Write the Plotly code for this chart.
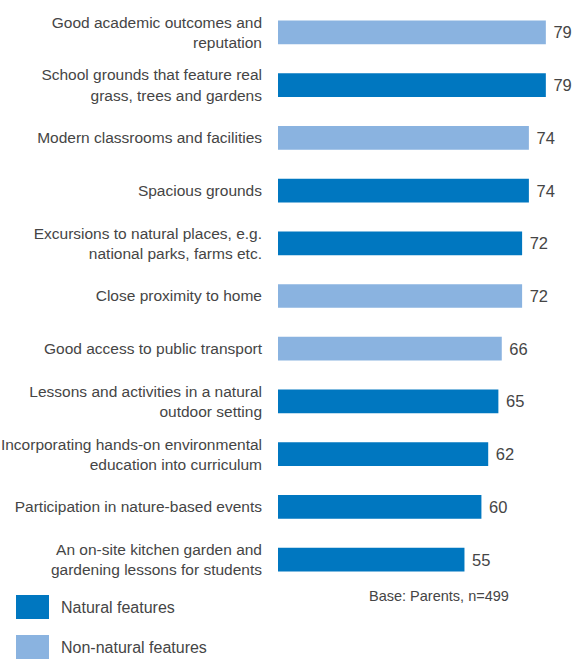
import plotly.graph_objects as go

# Survey items, top to bottom
labels = [
    "Good academic outcomes and<br>reputation",
    "School grounds that feature real<br>grass, trees and gardens",
    "Modern classrooms and facilities",
    "Spacious grounds",
    "Excursions to natural places, e.g.<br>national parks, farms etc.",
    "Close proximity to home",
    "Good access to public transport",
    "Lessons and activities in a natural<br>outdoor setting",
    "Incorporating hands-on environmental<br>education into curriculum",
    "Participation in nature-based events",
    "An on-site kitchen garden and<br>gardening lessons for students",
]
values = [79, 79, 74, 74, 72, 72, 66, 65, 62, 60, 55]
is_natural = [False, True, False, True, True, False, False, True, True, True, True]

legend_names = ["Natural features", "Non-natural features"]
base_note = "Base: Parents, n=499"

DARK = "#0077C0"
LIGHT = "#8AB3E0"
TEXT = "#454545"
FONT = "Liberation Sans, Arial, sans-serif"

W, H = 575, 659
ML, MR, MT, MB = 278, 0, 6, 73
PW, PH = W - ML - MR, H - MT - MB


def px_x(x):
    return (x - ML) / PW


def px_y(y):
    return (H - MB - y) / PH


fig = go.Figure()
for natural, color in [(True, DARK), (False, LIGHT)]:
    ys = [l for l, n in zip(labels, is_natural) if n == natural]
    xs = [v for v, n in zip(values, is_natural) if n == natural]
    fig.add_trace(go.Bar(
        x=xs, y=ys, orientation="h",
        marker=dict(color=color, line=dict(width=0)),
        text=["\u00a0" + str(v) for v in xs], textposition="outside",
        textfont=dict(size=16.5, color=TEXT, family=FONT),
        cliponaxis=False, showlegend=False,
        hoverinfo="skip",
    ))

fig.update_layout(
    width=W, height=H,
    margin=dict(l=ML, r=MR, t=MT, b=MB, autoexpand=False),
    barmode="overlay", bargap=0.55,
    plot_bgcolor="white", paper_bgcolor="white",
    font=dict(family=FONT, color=TEXT, size=15.5),
    xaxis=dict(range=[0, 87.6], visible=False, fixedrange=True,
               automargin=False),
    yaxis=dict(
        categoryorder="array", categoryarray=labels,
        autorange="reversed", showgrid=False, zeroline=False,
        showline=False, ticks="", ticklabelstandoff=15,
        automargin=False,
        tickfont=dict(size=15.5, color=TEXT, family=FONT),
    ),
)

# Legend drawn as colour swatches with labels
for i, (name, color) in enumerate(zip(legend_names, [DARK, LIGHT])):
    top = 595 + 40 * i
    fig.add_shape(type="rect", xref="paper", yref="paper",
                  x0=px_x(16), x1=px_x(49),
                  y0=px_y(top + 24), y1=px_y(top),
                  fillcolor=color, line=dict(width=0))
    fig.add_annotation(xref="paper", yref="paper",
                       x=px_x(59), y=px_y(top + 12),
                       xanchor="left", yanchor="middle", showarrow=False,
                       text=name, font=dict(size=16, color=TEXT, family=FONT))

fig.add_annotation(xref="paper", yref="paper",
                   x=px_x(367), y=px_y(596),
                   xanchor="left", yanchor="middle", showarrow=False,
                   text=base_note, font=dict(size=14.5, color=TEXT, family=FONT))

fig.write_html("out.html")
